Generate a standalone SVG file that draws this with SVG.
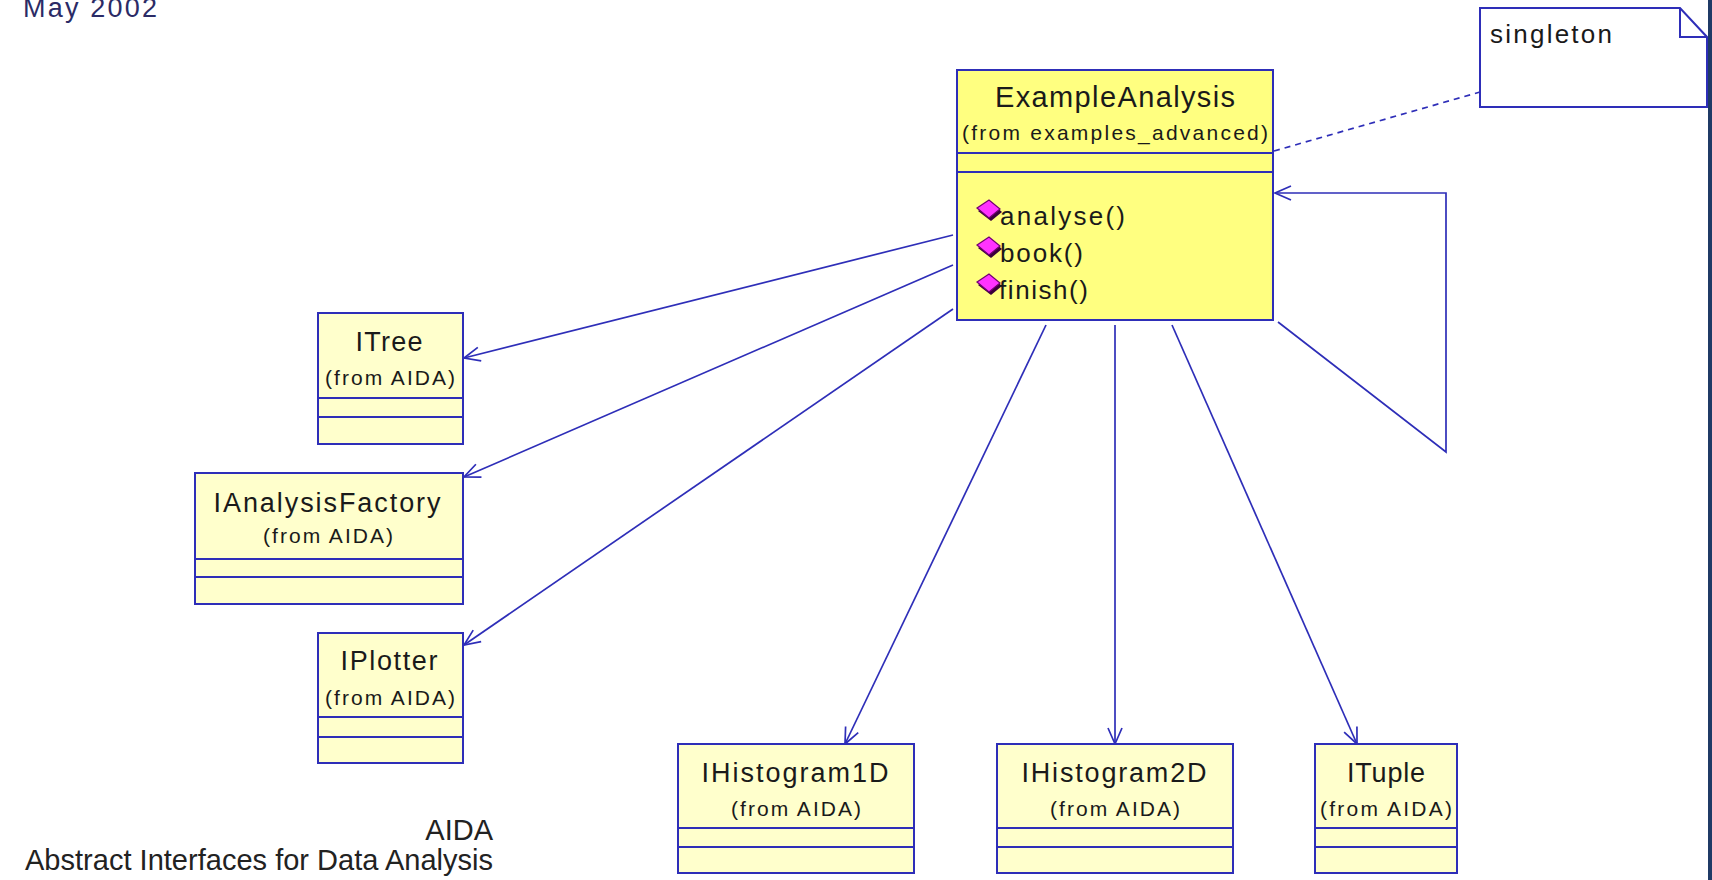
<svg xmlns="http://www.w3.org/2000/svg" width="1712" height="880" viewBox="0 0 1712 880">
  <style>
    .cls { fill: #FFFFCC; stroke: #2E2EB8; stroke-width: 2; }
    .main { fill: #FFFF80; stroke: #2E2EB8; stroke-width: 2; }
    .sep { stroke: #2E2EB8; stroke-width: 2; }
    .t { font-family: "Liberation Sans", Arial, sans-serif; fill: #1a1a1a; }
    .title { font-size: 27px; text-anchor: middle; }
    .pkg { font-size: 21px; text-anchor: middle; }
    .op { font-size: 26px; }
    .conn { fill: none; stroke: #2E2EB8; stroke-width: 1.7; }
    .note { fill: #FFFFFF; stroke: #2E2EB8; stroke-width: 2; }
  </style>
  <defs>
    <marker id="open" markerUnits="userSpaceOnUse" markerWidth="30" markerHeight="30" refX="0" refY="0" viewBox="-20 -15 30 30" orient="auto">
      <path d="M -16 -7 L 0 0 L -16 7" fill="none" stroke="#2E2EB8" stroke-width="1.7"/>
    </marker>
    <!-- operation visibility icon: magenta rhombus with dark shadow -->
    <g id="op-icon">
      <path d="M -12 -1 L 1 -10 L 12 0 L 1 9 Z" fill="#3a003a"/>
      <path d="M -13 -4 L -1 -12 L 10 -3 L -1 6 Z" fill="#FF33FF" stroke="#700070" stroke-width="1.2"/>
    </g>
  </defs>

  <rect width="1712" height="880" fill="#FFFFFF"/>
  <rect x="1708" y="0" width="4" height="880" fill="#1F3A66"/>

  <text class="t" x="23" y="17" font-size="27" style="fill:#2B2B66" textLength="134">May 2002</text>

  <!-- connectors -->
  <g id="connectors">
    <line class="conn" x1="953" y1="235" x2="464" y2="358" marker-end="url(#open)"/>
    <line class="conn" x1="953" y1="265" x2="464" y2="477" marker-end="url(#open)"/>
    <line class="conn" x1="953" y1="309" x2="464" y2="645" marker-end="url(#open)"/>
    <line class="conn" x1="1046" y1="325" x2="845" y2="744" marker-end="url(#open)"/>
    <line class="conn" x1="1115" y1="325" x2="1115" y2="744" marker-end="url(#open)"/>
    <line class="conn" x1="1172" y1="325" x2="1357" y2="744" marker-end="url(#open)"/>
    <polyline class="conn" points="1278,322 1446,452 1446,193 1275,193" marker-end="url(#open)"/>
    <line class="conn" x1="1274" y1="151" x2="1480" y2="92" stroke-dasharray="6,5"/>
  </g>

  <!-- note -->
  <g id="note-singleton">
    <path class="note" d="M 1480 8 L 1680 8 L 1707 37 L 1707 107 L 1480 107 Z"/>
    <path d="M 1680 8 L 1680 37 L 1707 37" fill="none" stroke="#2E2EB8" stroke-width="2"/>
    <text class="t op" x="1490" y="43" textLength="122">singleton</text>
  </g>

  <!-- main class -->
  <g id="ExampleAnalysis">
    <rect class="main" x="957" y="70" width="316" height="250"/>
    <line class="sep" x1="957" y1="153" x2="1273" y2="153"/>
    <line class="sep" x1="957" y1="172" x2="1273" y2="172"/>
    <text class="t" x="1115" y="107" font-size="29" text-anchor="middle" textLength="240">ExampleAnalysis</text>
    <text class="t" x="1115" y="140" font-size="21" text-anchor="middle" textLength="306">(from examples_advanced)</text>
    <use href="#op-icon" x="990" y="212"/>
    <use href="#op-icon" x="990" y="249"/>
    <use href="#op-icon" x="990" y="286"/>
    <text class="t op" x="1000" y="225" textLength="125">analyse()</text>
    <text class="t op" x="1000" y="262" textLength="83">book()</text>
    <text class="t op" x="999" y="299" textLength="89">finish()</text>
  </g>

  <g id="ITree">
    <rect class="cls" x="318" y="313" width="145" height="131"/>
    <line class="sep" x1="318" y1="398" x2="463" y2="398"/>
    <line class="sep" x1="318" y1="417" x2="463" y2="417"/>
    <text class="t title" x="389" y="351" textLength="67">ITree</text>
    <text class="t pkg" x="390" y="385" textLength="130">(from AIDA)</text>
  </g>

  <g id="IAnalysisFactory">
    <rect class="cls" x="195" y="473" width="268" height="131"/>
    <line class="sep" x1="195" y1="559" x2="463" y2="559"/>
    <line class="sep" x1="195" y1="577" x2="463" y2="577"/>
    <text class="t title" x="327" y="512" textLength="227">IAnalysisFactory</text>
    <text class="t pkg" x="328" y="543" textLength="130">(from AIDA)</text>
  </g>

  <g id="IPlotter">
    <rect class="cls" x="318" y="633" width="145" height="130"/>
    <line class="sep" x1="318" y1="717" x2="463" y2="717"/>
    <line class="sep" x1="318" y1="737" x2="463" y2="737"/>
    <text class="t title" x="389" y="670" textLength="97">IPlotter</text>
    <text class="t pkg" x="390" y="705" textLength="130">(from AIDA)</text>
  </g>

  <g id="IHistogram1D">
    <rect class="cls" x="678" y="744" width="236" height="129"/>
    <line class="sep" x1="678" y1="828" x2="914" y2="828"/>
    <line class="sep" x1="678" y1="847" x2="914" y2="847"/>
    <text class="t title" x="795" y="782" textLength="187">IHistogram1D</text>
    <text class="t pkg" x="796" y="816" textLength="130">(from AIDA)</text>
  </g>

  <g id="IHistogram2D">
    <rect class="cls" x="997" y="744" width="236" height="129"/>
    <line class="sep" x1="997" y1="828" x2="1233" y2="828"/>
    <line class="sep" x1="997" y1="847" x2="1233" y2="847"/>
    <text class="t title" x="1114" y="782" textLength="185">IHistogram2D</text>
    <text class="t pkg" x="1115" y="816" textLength="130">(from AIDA)</text>
  </g>

  <g id="ITuple">
    <rect class="cls" x="1315" y="744" width="142" height="129"/>
    <line class="sep" x1="1315" y1="828" x2="1457" y2="828"/>
    <line class="sep" x1="1315" y1="847" x2="1457" y2="847"/>
    <text class="t title" x="1386" y="782" textLength="78">ITuple</text>
    <text class="t pkg" x="1386" y="816" textLength="132">(from AIDA)</text>
  </g>

  <text class="t" x="493" y="840" font-size="29" text-anchor="end" style="fill:#222">AIDA</text>
  <text class="t" x="25" y="870" font-size="29" textLength="468" style="fill:#222">Abstract Interfaces for Data Analysis</text>
</svg>
